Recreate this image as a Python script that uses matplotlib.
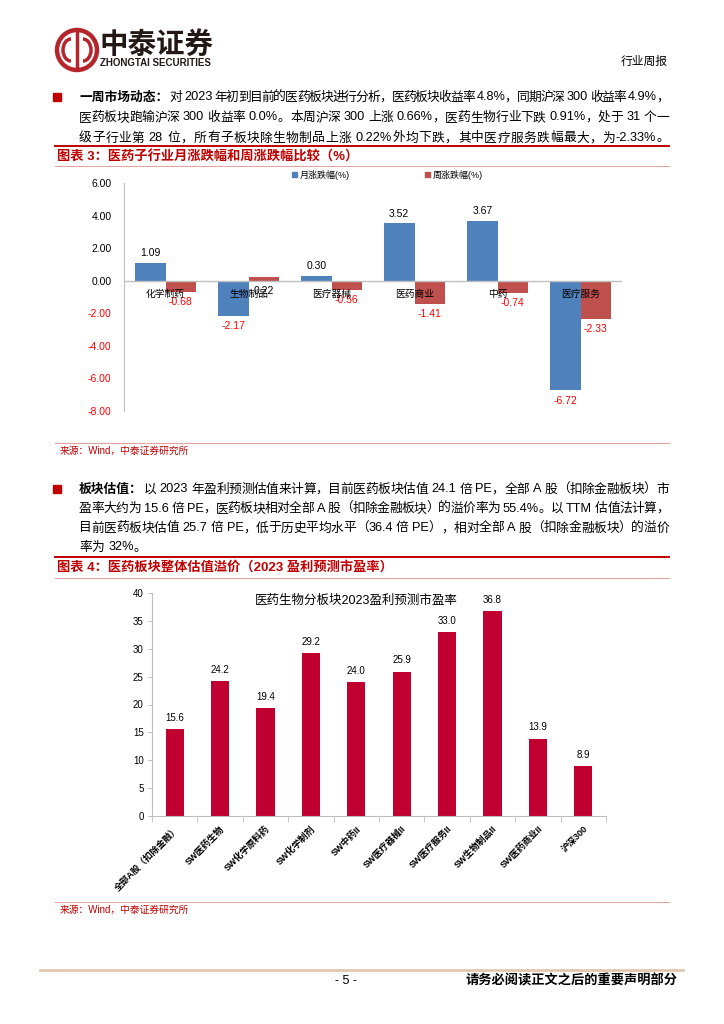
import re
import matplotlib
matplotlib.use('Agg')
import matplotlib.pyplot as plt
from matplotlib.patches import Rectangle, Circle, Arc
import numpy as np

plt.rcParams['font.family'] = ['Liberation Sans', 'Noto Sans CJK SC', 'DejaVu Sans']

# 图表3 数据
cats1 = ['化学制药', '生物制品', '医疗器械', '医药商业', '中药', '医疗服务']
month_chg = [1.09, -2.17, 0.30, 3.52, 3.67, -6.72]
week_chg = [-0.68, 0.22, -0.56, -1.41, -0.74, -2.33]
yticks1 = [-8, -6, -4, -2, 0, 2, 4, 6]

# 图表4 数据
cats2 = ['全部A股（扣除金融）', 'SW医药生物', 'SW化学原料药', 'SW化学制剂', 'SW中药II',
         'SW医疗器械II', 'SW医疗服务II', 'SW生物制品II', 'SW医药商业II', '沪深300']
pe_2023 = [15.6, 24.2, 19.4, 29.2, 24.0, 25.9, 33.0, 36.8, 13.9, 8.9]
yticks2 = [0, 5, 10, 15, 20, 25, 30, 35, 40]

para1 = ['对 2023 年初到目前的医药板块进行分析，医药板块收益率 4.8%，同期沪深 300 收益率 4.9%，',
         '医药板块跑输沪深 300 收益率 0.0%。本周沪深 300 上涨 0.66%，医药生物行业下跌 0.91%，处于 31 个一',
         '级子行业第 28 位，所有子板块除生物制品上涨 0.22%外均下跌，其中医疗服务跌幅最大，为-2.33%。']
para2 = ['以 2023 年盈利预测估值来计算，目前医药板块估值 24.1 倍 PE，全部 A 股（扣除金融板块）市',
         '盈率大约为 15.6 倍 PE，医药板块相对全部 A 股（扣除金融板块）的溢价率为 55.4%。以 TTM 估值法计算，',
         '目前医药板块估值 25.7 倍 PE，低于历史平均水平（36.4 倍 PE），相对全部 A 股（扣除金融板块）的溢价',
         '率为 32%。']

BLUE = '#4F81BD'
RED = '#C0504D'
CRIMSON = '#C00030'
DARKRED = '#C00000'
GRAY = '#BFBFBF'

W, H = 724, 1024
fig = plt.figure(figsize=(7.24, 10.24), dpi=100)
renderer = fig.canvas.get_renderer()
page = fig.add_axes([0, 0, 1, 1])
page.set_xlim(0, W)
page.set_ylim(H, 0)
page.axis('off')


def fx(x):
    return x / W


def fy(y):
    return 1 - y / H


# 页眉
page.add_patch(Circle((77, 50), 20, fill=False, lw=3.2, color='#B5252B'))
page.add_patch(Arc((71, 50), 16, 22, theta1=90, theta2=270, lw=2.5, color='#B5252B'))
page.add_patch(Arc((83, 50), 16, 22, theta1=-90, theta2=90, lw=2.5, color='#B5252B'))
page.plot([77, 77], [33, 67], color='#B5252B', lw=2.5)
page.text(99, 45, '中泰证券', fontsize=20.5, fontweight='bold', color='#231815',
          family=['Noto Sans CJK SC'], va='center', ha='left')
page.text(100, 63, 'ZHONGTAI SECURITIES', fontsize=7, fontweight='bold', color='#231815',
          va='center', ha='left')
page.text(668, 62, '行业周报', fontsize=8.5, color='black', va='center', ha='right')

FS = 9.2
RIGHT = 669


def text_line(x0, y, s, justify=True):
    # 两端对齐：逐字排版，把多余空间均分到各字之间
    toks = re.findall(r'[A-Za-z0-9.%\-]+| |.', s)
    arts, widths = [], []
    for t in toks:
        if t == ' ':
            arts.append(None)
            widths.append(FS * 0.3 * 100 / 72)
        else:
            fam = ['Liberation Sans'] if t.isascii() else ['Noto Sans CJK SC']
            a = page.text(0, y, t, fontsize=FS, va='center', ha='left', family=fam)
            arts.append(a)
            widths.append(a.get_window_extent(renderer).width)
    gap = (RIGHT - x0 - sum(widths)) / (len(toks) - 1) if justify else 0
    x = x0
    for a, w in zip(arts, widths):
        if a is not None:
            a.set_x(x)
        x += w + gap


def paragraph(y0, head, lines, dy):
    page.add_patch(Rectangle((53, y0 - 4), 8, 8, color=DARKRED))
    t = page.text(79, y0, head, fontsize=FS, fontweight='bold', va='center', ha='left',
                  family=['Noto Sans CJK SC'])
    x_head = 79 + t.get_window_extent(renderer).width + 1
    for k, ln in enumerate(lines):
        x0 = x_head if k == 0 else 79
        text_line(x0, y0 + dy * k, ln, justify=(k < len(lines) - 1 or len(ln) > 40))


paragraph(97, '一周市场动态：', para1, 20.5)


def caption(y_line, y_text, y_thin, text):
    page.plot([55, 669], [y_line, y_line], color=DARKRED, lw=1.4)
    page.text(57, y_text, text, fontsize=9.5, fontweight='bold', color=DARKRED,
              va='center', ha='left')
    page.plot([55, 669], [y_thin, y_thin], color='#E6A0A0', lw=0.7)


def source(y_line, y_text):
    page.plot([55, 669], [y_line, y_line], color='#E6A0A0', lw=0.7)
    page.text(60, y_text, '来源：Wind，中泰证券研究所', fontsize=7, color=DARKRED,
              va='center', ha='left')


caption(146, 157, 166, '图表 3：医药子行业月涨跌幅和周涨跌幅比较（%）')

# 图表3
ax1 = fig.add_axes([fx(124), fy(411), 498 / W, (411 - 183) / H])
x1 = np.arange(len(cats1))
bw = 0.367
ax1.bar(x1 - bw / 2, month_chg, bw, color=BLUE, label='月涨跌幅(%)', zorder=2)
ax1.bar(x1 + bw / 2, week_chg, bw, color=RED, label='周涨跌幅(%)', zorder=2)
ax1.set_xlim(-0.5, len(cats1) - 0.5)
ax1.set_ylim(-8, 6)
ax1.axhline(0, color=GRAY, lw=1, zorder=3)
ax1.set_xticks([])
ax1.set_yticks(yticks1)
ax1.set_yticklabels([f'{v:.2f}' for v in yticks1], fontsize=7.5)
for lab, v in zip(ax1.get_yticklabels(), yticks1):
    lab.set_color('#FF0000' if v < 0 else 'black')
ax1.tick_params(axis='y', length=0, pad=9)
for s in ['top', 'right', 'bottom']:
    ax1.spines[s].set_visible(False)
ax1.spines['left'].set_color(GRAY)
ax1.patch.set_alpha(0)

for series, off in [(month_chg, -bw / 2), (week_chg, bw / 2)]:
    for i, v in enumerate(series):
        if v >= 0 and series is month_chg:
            ax1.annotate(f'{v:.2f}', (i + off, v), xytext=(0, 7), textcoords='offset points',
                         ha='center', va='center', fontsize=7.5, color='black')
        else:
            ax1.annotate(f'{v:.2f}', (i + off, min(v, 0)), xytext=(0, -7.5),
                         textcoords='offset points', ha='center', va='center', fontsize=7.5,
                         color='black' if v >= 0 else '#FF0000')
for i, c in enumerate(cats1):
    ax1.annotate(c, (i, 0), xytext=(0, -9.5), textcoords='offset points',
                 ha='center', va='center', fontsize=7, zorder=4)

# 图例
page.add_patch(Rectangle((292, 172), 5, 5, color=BLUE))
page.text(300, 175, '月涨跌幅(%)', fontsize=6.5, va='center', ha='left')
page.add_patch(Rectangle((425, 172), 5, 5, color=RED))
page.text(433, 175, '周涨跌幅(%)', fontsize=6.5, va='center', ha='left')

source(443, 451)

paragraph(489, '板块估值：', para2, 19.5)

caption(557, 567, 578, '图表 4：医药板块整体估值溢价（2023 盈利预测市盈率）')

# 图表4
ax2 = fig.add_axes([fx(152), fy(816), 454 / W, (816 - 593) / H])
x2 = np.arange(len(cats2))
ax2.bar(x2, pe_2023, 0.4, color=CRIMSON, zorder=2)
for i, v in enumerate(pe_2023):
    ax2.annotate(f'{v:.1f}', (i, v), xytext=(0, 8), textcoords='offset points',
                 ha='center', va='center', fontsize=7)
ax2.set_xlim(-0.5, len(cats2) - 0.5)
ax2.set_ylim(0, 40)
ax2.set_yticks(yticks2)
ax2.set_yticklabels([str(v) for v in yticks2], fontsize=7)
ax2.tick_params(axis='y', length=3, color=GRAY, pad=3)
ax2.set_xticks(x2)
ax2.set_xticklabels(cats2, rotation=45, ha='right', rotation_mode='anchor', fontsize=6.5,
                    fontweight='bold')
ax2.tick_params(axis='x', length=0, pad=6)
ax2.set_xticks(np.arange(-0.5, len(cats2)), minor=True)
ax2.tick_params(axis='x', which='minor', length=4, color=GRAY)
for s in ['top', 'right']:
    ax2.spines[s].set_visible(False)
ax2.spines['left'].set_color(GRAY)
ax2.spines['bottom'].set_color(GRAY)
ax2.patch.set_alpha(0)
ax2.text(0.45, 0.965, '医药生物分板块2023盈利预测市盈率', transform=ax2.transAxes,
         ha='center', va='center', fontsize=9)

source(902, 910)

# 页脚
page.plot([40, 683], [970, 970], color='#E2C8AE', lw=2)
page.text(346, 981, '- 5 -', fontsize=9, ha='center', va='center')
page.text(678, 981, '请务必阅读正文之后的重要声明部分', fontsize=9.5, fontweight='bold',
          ha='right', va='center')

fig.savefig('out.png', dpi=100)
